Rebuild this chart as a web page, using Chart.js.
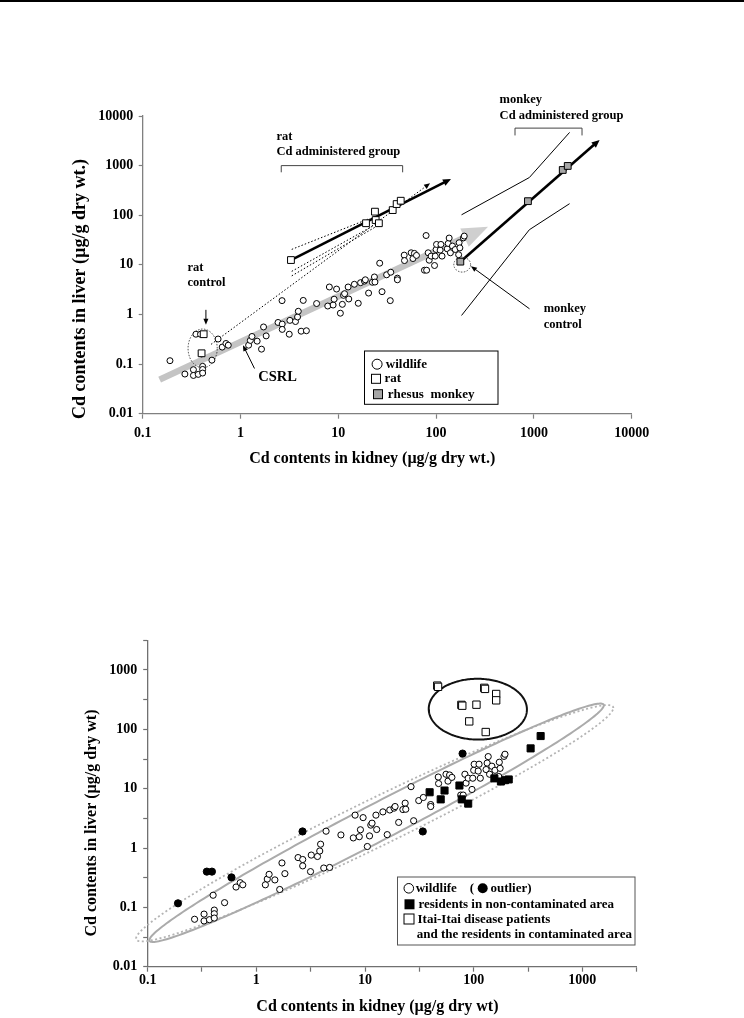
<!DOCTYPE html>
<html><head><meta charset="utf-8">
<script src="https://cdn.jsdelivr.net/npm/chart.js@4.4.1/dist/chart.umd.min.js"></script>
<style>
html,body{margin:0;padding:0;background:#fff;}
body{width:744px;height:1018px;position:relative;overflow:hidden;}
#topline{position:absolute;left:0;top:0;width:744px;height:1.5px;background:#000;}
canvas{position:absolute;left:0;}
#c1{top:0;}
#c2{top:500px;}
</style></head><body>
<div id="topline"></div>
<canvas id="c1" width="744" height="500"></canvas>
<canvas id="c2" width="744" height="518"></canvas>
<script>
// ---------- data (µg/g dry wt) ----------
const wildlifeKidney = [0.27,0.33,0.33,0.37,0.41,0.41,0.41,0.40,0.51,0.65,0.71,0.75,1.21,1.26,1.31,1.48,1.64,1.72,1.83,2.42,2.67,2.67,3.15,3.2,3.65,3.83,3.9,4.17,4.38,4.72,6.0,7.8,8.1,8.85,9.07,9.6,10.5,11.0,11.3,11.6,12.6,12.8,14.6,16.0,16.9,18.5,18.9,20.4,22.3,23.4,23.7,26.5,28,31.2,34.4,40.2,40.2,47.2,47.5,55.6,58,60,63,76,80,83,85,89,96.4,98,100,101,110,112,115,130,133,136,140,147,157,170,172,175,190,194];
const wildlifeLiver = [0.063,0.077,0.059,0.062,0.090,0.078,0.066,0.16,0.12,0.22,0.26,0.24,0.24,0.30,0.36,0.29,0.20,0.56,0.37,0.69,0.64,0.50,0.40,0.76,0.72,0.89,1.16,0.46,1.92,0.47,1.66,1.48,3.58,1.55,2.03,3.25,1.06,1.6,2.43,2.62,3.58,2.05,4.06,1.68,4.37,4.7,5.0,2.7,4.45,5.7,4.5,10.8,2.88,6.3,7.1,5.4,5.0,15.7,12.2,17.5,13.4,17,15.5,7.8,7.8,17.5,12.4,15,9.7,15,20.4,25.8,19.8,25.8,15,21,27,34.7,17.5,23.9,20.4,16,27.9,22,35,38];
const outlierKidney = [0.19,0.35,0.39,0.59,2.66,34,79];
const outlierLiver  = [0.117,0.40,0.40,0.32,1.9,1.9,39];

const ratKidney = [0.42,0.40,3.28,19.2,23.7,24.1,26,36,39.5,43.5];
const ratLiver  = [0.40,0.165,12.5,69,118,80,69,127,168,196];
const monkeyKidney = [177,869,1972,2218];
const monkeyLiver  = [11.6,192,817,985];

const itaiKidney = [46.2,47,77,78.5,106,125,127,161,161,91,129];
const itaiLiver  = [545,520,258,250,260,500,480,394,308,136,90];
const residentKidney = [39.3,49.7,53.9,73.9,77.6,89,155,178,194,210,334,413];
const residentLiver  = [8.7,6.6,9.3,11.3,6.6,5.6,14.9,13.2,13.9,14.3,47.7,77];

// trend / guide lines of figure 1 (kidney, liver)
const csrlKidney = [0.149,340];       const csrlLiver = [0.0487,58.9];
const ratTrendKidney = [3.28,142];    const ratTrendLiver = [12.5,537];
const ratDotKidney = [0.5,86.7];      const ratDotLiver = [0.25,440];
const ratBandUpKidney = [3.34,21.1];  const ratBandUpLiver = [20.5,86.5];
const ratBandLo1Kidney = [3.34,23];   const ratBandLo1Liver = [7.4,62];
const ratBandLo2Kidney = [3.34,24];   const ratBandLo2Liver = [6.0,58];
const monkeyTrendKidney = [177,4700]; const monkeyTrendLiver = [11.6,3300];
const monkeyUpKidney = [182,898,2317];const monkeyUpLiver = [102,575,4670];
const monkeyLoKidney = [182,898,2317];const monkeyLoLiver = [0.955,51,171];

// ticks
const ticks1X = [0.1,1,10,100,1000,10000];
const labels1X = ['0.1','1','10','100','1000','10000'];
const ticks1Y = [0.01,0.1,1,10,100,1000,10000];
const labels1Y = ['0.01','0.1','1','10','100','1000','10000'];
const ticks2X = [0.1,0.316,1,3.16,10,31.6,100,316,1000,3162];
const labels2X = ['0.1','','1','','10','','100','','1000',''];
const ticks2Y = [0.01,0.0316,0.1,0.316,1,3.16,10,31.6,100,316,1000,3162];
const labels2Y = ['0.01','','0.1','','1','','10','','100','','1000',''];

// ---------- helpers ----------
const SERIF = '"Liberation Serif","Times New Roman",serif';
Chart.defaults.font.family = SERIF;
Chart.defaults.font.weight = 'bold';
Chart.defaults.color = '#000';
const pts = (xs, ys) => xs.map((x, i) => ({x: x, y: ys[i]}));
function P(chart, x, y){ return [chart.scales.x.getPixelForValue(x), chart.scales.y.getPixelForValue(y)]; }
function polyline(chart, xs, ys, lw, color, dash){
  const ctx = chart.ctx; ctx.save(); ctx.strokeStyle = color; ctx.lineWidth = lw; ctx.setLineDash(dash || []);
  ctx.beginPath(); xs.forEach((x, i) => { const p = P(chart, x, ys[i]); i ? ctx.lineTo(p[0], p[1]) : ctx.moveTo(p[0], p[1]); });
  ctx.stroke(); ctx.restore();
}
function arrowPx(ctx, x0, y0, x1, y1, lw, color, L, W, dash){
  const a = Math.atan2(y1 - y0, x1 - x0);
  const bx = x1 - L * Math.cos(a), by = y1 - L * Math.sin(a);
  ctx.save(); ctx.strokeStyle = color; ctx.fillStyle = color; ctx.lineWidth = lw; ctx.setLineDash(dash || []);
  ctx.beginPath(); ctx.moveTo(x0, y0); ctx.lineTo(bx + 0.5 * Math.cos(a), by + 0.5 * Math.sin(a)); ctx.stroke();
  ctx.setLineDash([]);
  ctx.beginPath(); ctx.moveTo(x1, y1);
  ctx.lineTo(bx + W * Math.sin(a), by - W * Math.cos(a));
  ctx.lineTo(bx - W * Math.sin(a), by + W * Math.cos(a));
  ctx.closePath(); ctx.fill(); ctx.restore();
}
function arrowData(chart, xs, ys, lw, color, L, W, dash){
  const p0 = P(chart, xs[0], ys[0]), p1 = P(chart, xs[xs.length-1], ys[ys.length-1]);
  arrowPx(chart.ctx, p0[0], p0[1], p1[0], p1[1], lw, color, L, W, dash);
}
// ellipse defined in log10 space: centre + conjugate semi-diameters u, v
function logEllipse(chart, e, lw, color, dash){
  const ctx = chart.ctx; ctx.save(); ctx.strokeStyle = color; ctx.lineWidth = lw; ctx.setLineDash(dash || []);
  ctx.beginPath();
  for (let i = 0; i <= 240; i++){
    const t = i / 240 * 2 * Math.PI;
    const lx = e.cx + e.ux * Math.cos(t) + e.vx * Math.sin(t);
    const ly = e.cy + e.uy * Math.cos(t) + e.vy * Math.sin(t);
    const p = P(chart, Math.pow(10, lx), Math.pow(10, ly));
    i ? ctx.lineTo(p[0], p[1]) : ctx.moveTo(p[0], p[1]);
  }
  ctx.closePath(); ctx.stroke(); ctx.restore();
}
function textAt(ctx, s, x, y, size, align){
  ctx.save(); ctx.font = 'bold ' + size + 'px ' + SERIF; ctx.fillStyle = '#000';
  ctx.textAlign = align || 'left'; ctx.textBaseline = 'middle'; ctx.fillText(s, x, y); ctx.restore();
}
function textData(chart, s, x, y, size){ const p = P(chart, x, y); textAt(chart.ctx, s, p[0], p[1], size); }
function vTitle(ctx, s, x, y, size){
  ctx.save(); ctx.translate(x, y); ctx.rotate(-Math.PI / 2);
  ctx.font = 'bold ' + size + 'px ' + SERIF; ctx.fillStyle = '#000'; ctx.textAlign = 'center'; ctx.textBaseline = 'middle';
  ctx.fillText(s, 0, 0); ctx.restore();
}
function logAxis(min, max, ticks, labels, fixed, isX, tickLen, pad, axisColor){
  return {
    type: 'logarithmic', min: min, max: max,
    afterBuildTicks: s => { s.ticks = ticks.map(v => ({value: v})); },
    afterFit: s => { if (isX) s.height = fixed; else s.width = fixed; },
    ticks: {callback: (v, i) => labels[i], autoSkip: false, maxRotation: 0, minRotation: 0, padding: pad,
            font: {size: 14, weight: 'bold', family: SERIF}, color: '#000'},
    grid: {display: true, drawOnChartArea: false, drawTicks: true, tickLength: tickLen, tickColor: axisColor, tickWidth: 1.2, color: axisColor},
    border: {display: true, color: axisColor, width: 1.3},
    title: {display: false}
  };
}

// ---------- figure 1 ----------
const deco1 = {
  id: 'deco1',
  beforeDatasetsDraw(chart){
    const ctx = chart.ctx;
    // CSRL broad grey arrow
    const a = P(chart, csrlKidney[0], csrlLiver[0]), b = P(chart, csrlKidney[1], csrlLiver[1]);
    const ang = Math.atan2(b[1] - a[1], b[0] - a[0]); const L = 26, W = 10;
    const bx = b[0] - L * Math.cos(ang), by = b[1] - L * Math.sin(ang);
    ctx.save();
    ctx.strokeStyle = '#c4c4c4'; ctx.lineWidth = 6.5; ctx.beginPath(); ctx.moveTo(a[0], a[1]);
    ctx.lineTo(bx + Math.cos(ang), by + Math.sin(ang)); ctx.stroke();
    ctx.fillStyle = '#cfcfcf'; ctx.beginPath(); ctx.moveTo(b[0], b[1]);
    ctx.lineTo(bx + W * Math.sin(ang), by - W * Math.cos(ang));
    ctx.lineTo(bx - W * Math.sin(ang), by + W * Math.cos(ang)); ctx.closePath(); ctx.fill();
    ctx.restore();
    // rat guide lines
    arrowData(chart, ratDotKidney, ratDotLiver, 1, '#000', 6, 2.5, [1.5, 2]);
    polyline(chart, ratBandUpKidney, ratBandUpLiver, 1, '#000', [1.5, 2]);
    polyline(chart, ratBandLo1Kidney, ratBandLo1Liver, 1, '#000', [1.5, 2]);
    polyline(chart, ratBandLo2Kidney, ratBandLo2Liver, 1, '#000', [1.5, 2]);
    arrowData(chart, ratTrendKidney, ratTrendLiver, 2.6, '#000', 8, 3.5);
    // monkey guide lines
    polyline(chart, monkeyUpKidney, monkeyUpLiver, 1, '#000');
    polyline(chart, monkeyLoKidney, monkeyLoLiver, 1, '#000');
    arrowData(chart, monkeyTrendKidney, monkeyTrendLiver, 2.6, '#000', 8, 3.5);
    // control ellipses
    logEllipse(chart, {cx: -0.387, cy: -0.684, ux: 0.149, uy: 0, vx: 0, vy: 0.39}, 1, '#333', [1.5, 1.5]);
    logEllipse(chart, {cx: 2.267, cy: 1.004, ux: 0.086, uy: 0, vx: 0, vy: 0.15}, 1, '#333', [1.5, 1.5]);
    // brackets
    polyline(chart, [2.61, 2.61, 45.5, 45.5], [733, 1000, 1000, 733], 1, '#444');
    polyline(chart, [641, 641, 3105, 3105], [4060, 5700, 5700, 4060], 1, '#444');
    // pointer arrows
    arrowData(chart, [0.443, 0.443], [1.24, 0.617], 1, '#000', 6, 2.5);
    arrowData(chart, [1.39, 1.06], [0.0815, 0.241], 1, '#000', 6, 2.5);
    arrowData(chart, [902, 227], [1.30, 9.4], 1, '#000', 6, 2.5);
  },
  afterDraw(chart){
    const ctx = chart.ctx, ca = chart.chartArea;
    textData(chart, 'rat', 2.33, 3757, 12.5);
    textData(chart, 'Cd administered group', 2.33, 1862, 12.5);
    textData(chart, 'monkey', 446, 20800, 12.5);
    textData(chart, 'Cd administered group', 446, 10300, 12.5);
    textData(chart, 'rat', 0.287, 8.7, 12.5);
    textData(chart, 'control', 0.287, 4.3, 12.5);
    textData(chart, 'CSRL', 1.52, 0.0535, 14.5);
    textData(chart, 'monkey', 1259, 1.28, 12.5);
    textData(chart, 'control', 1259, 0.634, 12.5);
    // axis titles
    textAt(ctx, 'Cd contents in kidney (µg/g dry wt.)', ca.left + 229.5, ca.bottom + 45.5, 16, 'center');
    vTitle(ctx, 'Cd contents in liver (µg/g dry wt.)', 80.5, 289, 18);
    // legend
    ctx.save();
    ctx.fillStyle = '#fff'; ctx.strokeStyle = '#000'; ctx.lineWidth = 1;
    ctx.fillRect(364.5, 351, 133.5, 53.3); ctx.strokeRect(364.5, 351, 133.5, 53.3);
    ctx.beginPath(); ctx.arc(377.1, 364.2, 5, 0, 2 * Math.PI); ctx.fillStyle = '#fff'; ctx.fill(); ctx.stroke();
    ctx.fillStyle = '#fff'; ctx.fillRect(371.5, 374.3, 9, 9); ctx.strokeRect(371.5, 374.3, 9, 9);
    ctx.fillStyle = '#a6a6a6'; ctx.fillRect(373.5, 389.7, 9, 9); ctx.strokeRect(373.5, 389.7, 9, 9);
    ctx.restore();
    textAt(ctx, 'wildlife', 385.8, 364.5, 13);
    textAt(ctx, 'rat', 384.5, 379, 13);
    textAt(ctx, 'rhesus  monkey', 387.8, 394.5, 13);
  }
};

new Chart(document.getElementById('c1'), {
  type: 'scatter',
  data: {datasets: [
    {label: 'wildlife', data: pts(wildlifeKidney.concat(outlierKidney), wildlifeLiver.concat(outlierLiver)),
     pointStyle: 'circle', pointRadius: 3, backgroundColor: '#fff', borderColor: '#000', borderWidth: 1, order: 3},
    {label: 'rat', data: pts(ratKidney, ratLiver), pointStyle: 'rect', pointRadius: 4.8,
     backgroundColor: '#fff', borderColor: '#000', borderWidth: 1, order: 2},
    {label: 'rhesus monkey', data: pts(monkeyKidney, monkeyLiver), pointStyle: 'rect', pointRadius: 4.8,
     backgroundColor: '#a6a6a6', borderColor: '#000', borderWidth: 1, order: 1}
  ]},
  options: {
    responsive: false, animation: false, events: [],
    layout: {padding: {left: 0, top: 116, right: 112.3, bottom: 0}},
    plugins: {legend: {display: false}, tooltip: {enabled: false}},
    scales: {
      x: logAxis(0.1, 10000, ticks1X, labels1X, 86.3, true, 5, 6, '#808080'),
      y: logAxis(0.01, 10000, ticks1Y, labels1Y, 142.7, false, 4, 5.4, '#808080')
    }
  },
  plugins: [deco1]
});

// ---------- figure 2 ----------
const deco2 = {
  id: 'deco2',
  beforeDatasetsDraw(chart){
    logEllipse(chart, {cx: 1.089, cy: 0.417, ux: 2.196, uy: 1.942, vx: 0, vy: 0.44}, 1.8, '#b4b4b4', [2, 2.5]);
    logEllipse(chart, {cx: 1.106, cy: 0.425, ux: 2.091, uy: 1.978, vx: 0, vy: 0.35}, 2, '#ababab');
    logEllipse(chart, {cx: 2.038, cy: 2.339, ux: 0.45, uy: -0.05, vx: 0.04, vy: 0.51}, 2, '#111');
  },
  afterDraw(chart){
    const ctx = chart.ctx, ca = chart.chartArea;
    textAt(ctx, 'Cd contents in kidney (µg/g dry wt)', ca.left + 229.7, ca.bottom + 40, 16, 'center');
    vTitle(ctx, 'Cd contents in liver (µg/g dry wt)', 92.2, 323, 16);
    ctx.save();
    ctx.fillStyle = '#fff'; ctx.strokeStyle = '#555'; ctx.lineWidth = 1;
    ctx.fillRect(397.5, 377, 237.5, 68); ctx.strokeRect(397.5, 377, 237.5, 68);
    ctx.strokeStyle = '#000';
    ctx.beginPath(); ctx.arc(408.8, 388.3, 4.8, 0, 2 * Math.PI); ctx.fillStyle = '#fff'; ctx.fill(); ctx.stroke();
    ctx.beginPath(); ctx.arc(482.7, 388.3, 5, 0, 2 * Math.PI); ctx.fillStyle = '#000'; ctx.fill();
    ctx.fillStyle = '#000'; ctx.fillRect(404.5, 399.3, 10, 10);
    ctx.fillStyle = '#fff'; ctx.fillRect(404, 414, 10, 10); ctx.strokeRect(404, 414, 10, 10);
    ctx.restore();
    textAt(ctx, 'wildlife    (', 415.7, 388.8, 13);
    textAt(ctx, 'outlier)', 490.4, 388.8, 13);
    textAt(ctx, 'residents in non-contaminated area', 418.5, 404.6, 13);
    textAt(ctx, 'Itai-Itai disease patients', 417.5, 419.3, 13);
    textAt(ctx, 'and the residents in contaminated area', 416.8, 434.3, 13);
  }
};

new Chart(document.getElementById('c2'), {
  type: 'scatter',
  data: {datasets: [
    {label: 'wildlife', data: pts(wildlifeKidney, wildlifeLiver), pointStyle: 'circle', pointRadius: 3.1,
     backgroundColor: '#fff', borderColor: '#000', borderWidth: 1, order: 4},
    {label: 'outlier', data: pts(outlierKidney, outlierLiver), pointStyle: 'circle', pointRadius: 3.6,
     backgroundColor: '#000', borderColor: '#000', borderWidth: 1, order: 3},
    {label: 'residents in non-contaminated area', data: pts(residentKidney, residentLiver), pointStyle: 'rect', pointRadius: 5,
     backgroundColor: '#000', borderColor: '#000', borderWidth: 1, order: 2},
    {label: 'Itai-Itai disease patients and the residents in contaminated area', data: pts(itaiKidney, itaiLiver),
     pointStyle: 'rect', pointRadius: 5.2, backgroundColor: '#fff', borderColor: '#000', borderWidth: 1, order: 1}
  ]},
  options: {
    responsive: false, animation: false, events: [],
    layout: {padding: {left: 0, top: 140.3, right: 107.3, bottom: 0}},
    plugins: {legend: {display: false}, tooltip: {enabled: false}},
    scales: {
      x: logAxis(0.1, 3162, ticks2X, labels2X, 51.3, true, 5, 0.5, '#707070'),
      y: logAxis(0.01, 3162, ticks2Y, labels2Y, 147.7, false, 4.5, 6, '#707070')
    }
  },
  plugins: [deco2]
});
</script></body></html>
